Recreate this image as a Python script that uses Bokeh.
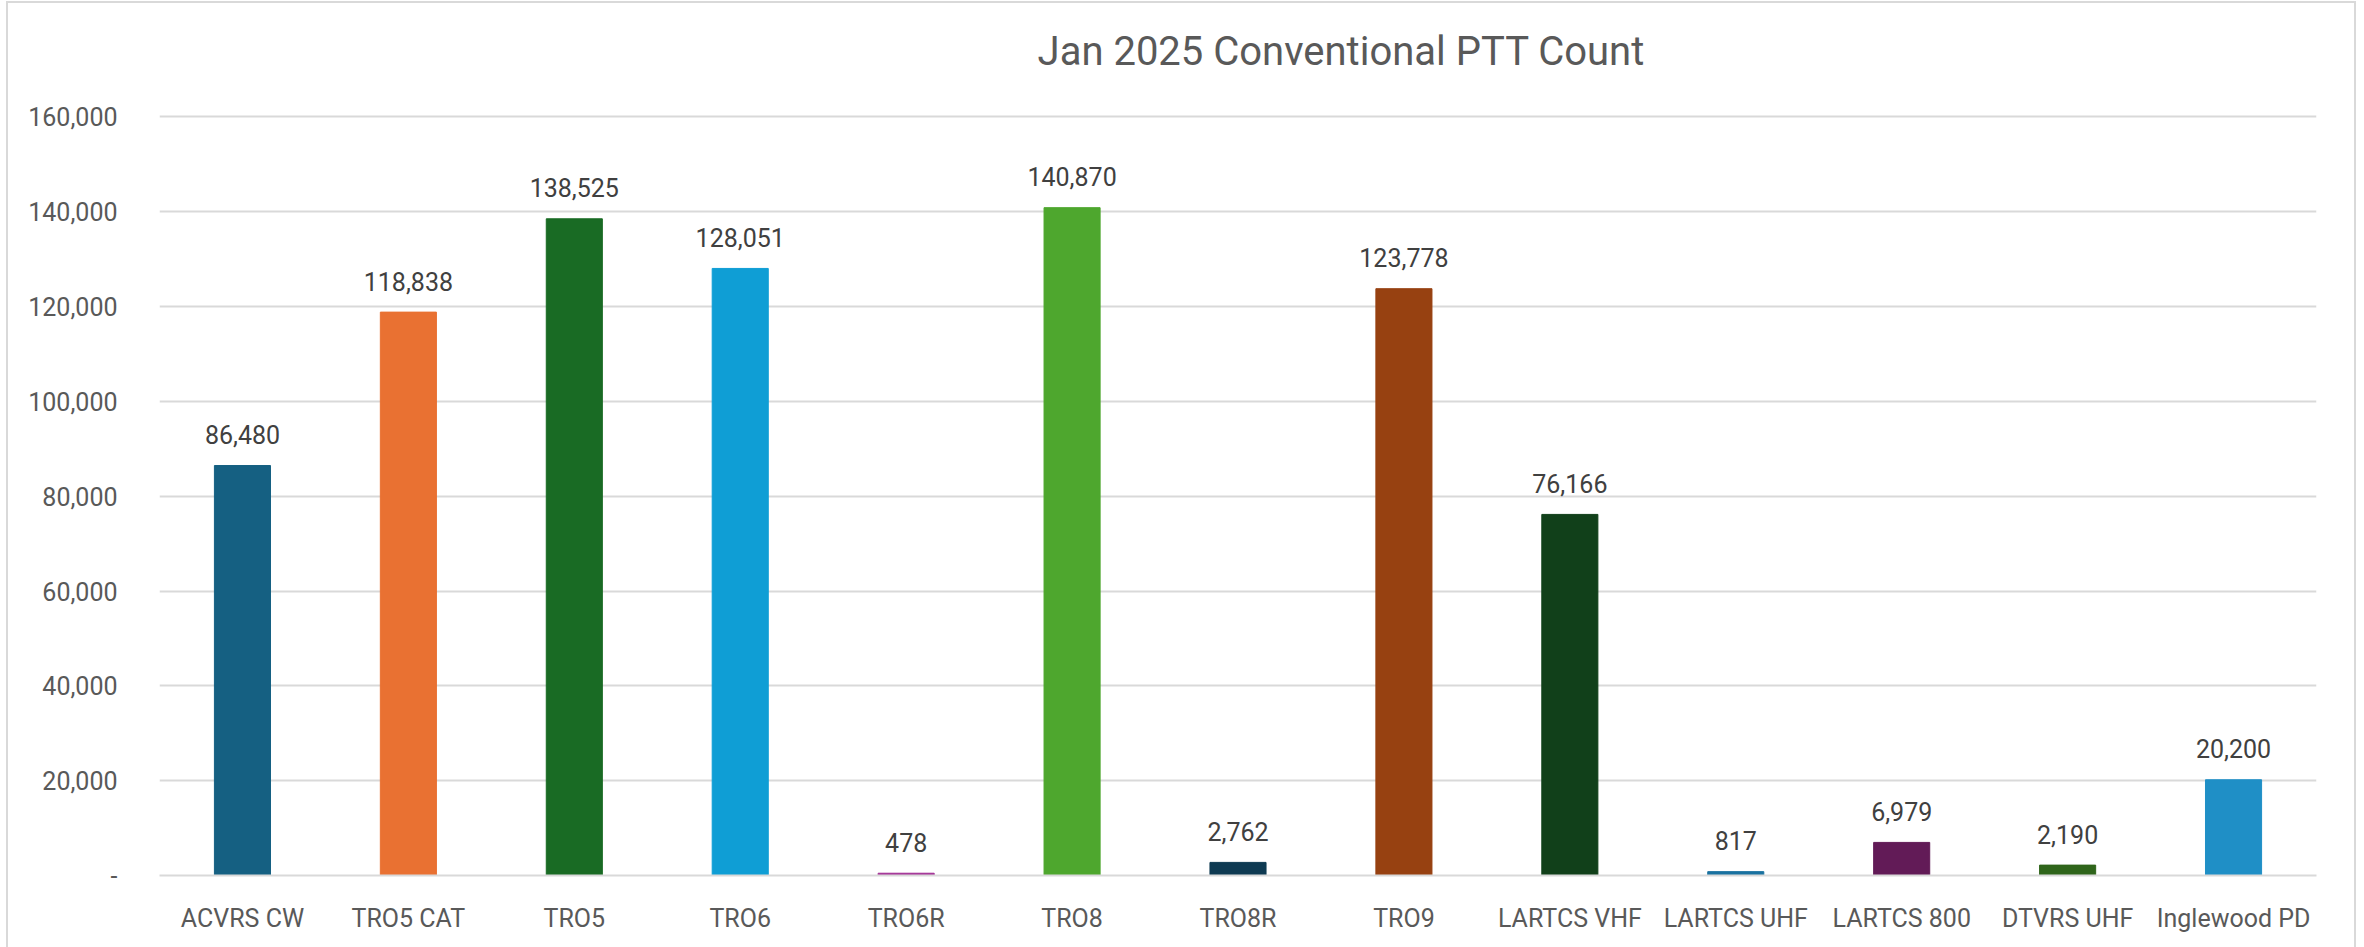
from bokeh.plotting import figure
from bokeh.models import ColumnDataSource, FixedTicker, NumeralTickFormatter, Label
from bokeh.core.properties import value
from bokeh.embed import file_html
from bokeh.resources import INLINE

categories = ["ACVRS CW", "TRO5 CAT", "TRO5", "TRO6", "TRO6R", "TRO8", "TRO8R",
              "TRO9", "LARTCS VHF", "LARTCS UHF", "LARTCS 800", "DTVRS UHF", "Inglewood PD"]
counts = [86480, 118838, 138525, 128051, 478, 140870, 2762,
          123778, 76166, 817, 6979, 2190, 20200]
colors = ["#156082", "#E97132", "#196B24", "#0F9ED5", "#A02B93", "#4EA72E", "#0E3A52",
          "#974111", "#11401A", "#1A72A0", "#621B57", "#2F651B", "#1F8FC6"]
y_ticks = [0, 20000, 40000, 60000, 80000, 100000, 120000, 140000, 160000]
title_text = "Jan 2025 Conventional PTT Count"

labels = [f"{v:,}" for v in counts]
src = ColumnDataSource(dict(cat=categories, val=counts, col=colors, lab=labels))

FONT = "Roboto"

# y range extends above the top gridline to leave room for the title inside the frame
p = figure(x_range=categories, y_range=(0, 182250), width=2346, height=944,
           output_backend="svg", toolbar_location=None,
           min_border_left=151, min_border_right=38, min_border_top=8, min_border_bottom=72)
p.styles = {"outline": "2px solid #d9d9d9", "margin-left": "8px", "margin-top": "3px"}

p.vbar(x="cat", top="val", width=0.338, color="col", source=src)
p.text(x="cat", y="val", text="lab", source=src, text_align="center",
       text_baseline="alphabetic", y_offset=-31, text_font=value(FONT),
       text_font_size="25px", text_color="#404040")

p.add_layout(Label(x=5.292, y=173710, text=title_text, text_align="left",
                   text_baseline="alphabetic", text_font=FONT, text_font_size="40px",
                   text_color="#595959"))

p.outline_line_color = None
p.xgrid.grid_line_color = None
p.ygrid.grid_line_color = "#d9d9d9"
p.ygrid.grid_line_width = 2

p.yaxis.ticker = FixedTicker(ticks=y_ticks)
p.yaxis.formatter = NumeralTickFormatter(format="0,0")
p.yaxis.major_label_overrides = {0: "-"}
p.yaxis.axis_line_color = None
p.yaxis.major_tick_line_color = None
p.yaxis.minor_tick_line_color = None
p.yaxis.major_label_standoff = 36
p.yaxis.major_label_text_font = FONT
p.yaxis.major_label_text_font_size = "25px"
p.yaxis.major_label_text_color = "#595959"

p.xaxis.axis_line_color = "#d9d9d9"
p.xaxis.axis_line_width = 2
p.xaxis.major_tick_line_color = None
p.xaxis.minor_tick_line_color = None
p.xaxis.major_label_standoff = 22
p.xaxis.major_label_text_font = FONT
p.xaxis.major_label_text_font_size = "25px"
p.xaxis.major_label_text_color = "#595959"

open("out.html", "w").write(file_html(p, INLINE))
